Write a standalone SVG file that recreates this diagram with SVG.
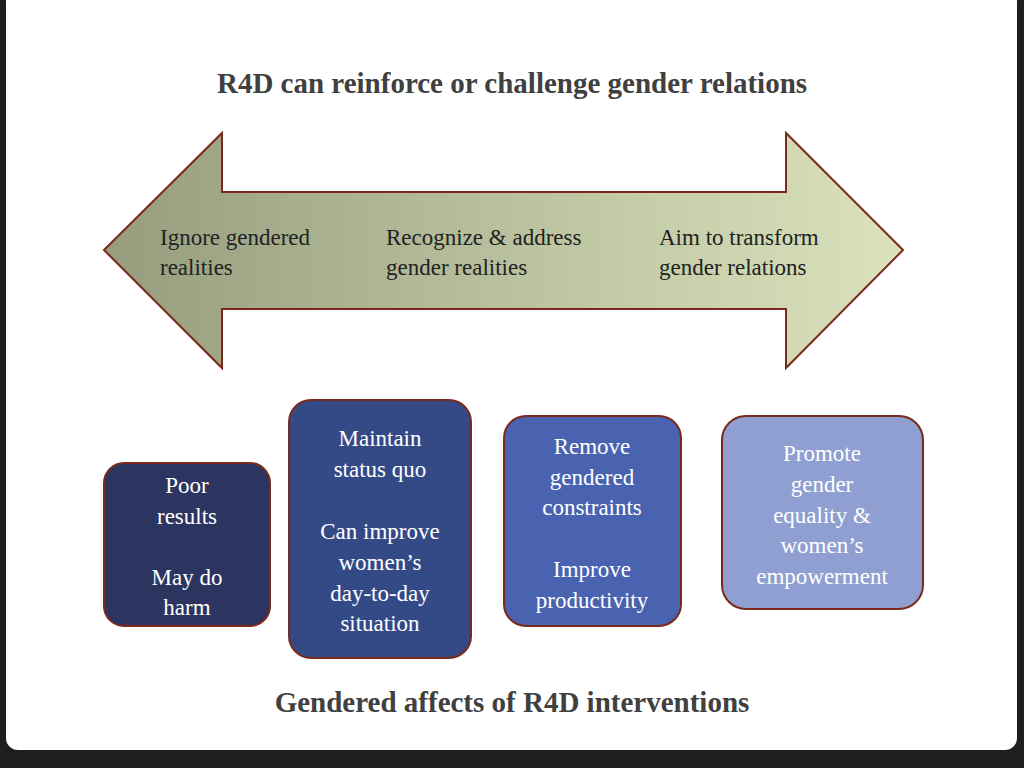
<svg xmlns="http://www.w3.org/2000/svg" width="1024" height="768" viewBox="0 0 1024 768">
<defs>
<linearGradient id="ag" x1="0" y1="0" x2="1" y2="0">
<stop offset="0" stop-color="#959d7d"/><stop offset="1" stop-color="#dbe3bd"/>
</linearGradient>
<style>
.b{stroke:#7a2a1a;stroke-width:2}
.t{font-family:"Liberation Serif",serif;font-size:23px;fill:#fff;text-anchor:middle}
.a{font-family:"Liberation Serif",serif;font-size:23px;fill:#222}
.h{font-family:"Liberation Serif",serif;font-size:29px;font-weight:bold;fill:#404040;text-anchor:middle}
</style>
</defs>
<rect width="1024" height="768" fill="#1e1e1e"/>
<rect x="6" y="-10" width="1011" height="760" rx="12" fill="#fff"/>
<text class="h" x="512" y="93">R4D can reinforce or challenge gender relations</text>
<g id="arrow">
<polygon class="b" fill="url(#ag)" points="104,250 222,133 222,192 786,192 786,133 903,250 786,368 786,309 222,309 222,368"/>
<text class="a" x="160" y="245">Ignore gendered</text><text class="a" x="160" y="275">realities</text>
<text class="a" x="386" y="245">Recognize &amp; address</text><text class="a" x="386" y="275">gender realities</text>
<text class="a" x="659" y="245">Aim to transform</text><text class="a" x="659" y="275">gender relations</text>
</g>
<g id="n1"><rect class="b" x="104" y="463" width="166" height="163" rx="20" fill="#2b3560"/>
<text class="t" x="187" y="493">Poor</text><text class="t" x="187" y="524">results</text><text class="t" x="187" y="585">May do</text><text class="t" x="187" y="615">harm</text></g>
<g id="n2"><rect class="b" x="289" y="400" width="182" height="258" rx="22" fill="#344a87"/>
<text class="t" x="380" y="446">Maintain</text><text class="t" x="380" y="477">status quo</text><text class="t" x="380" y="539">Can improve</text><text class="t" x="380" y="570">women’s</text><text class="t" x="380" y="601">day-to-day</text><text class="t" x="380" y="631">situation</text></g>
<g id="n3"><rect class="b" x="504" y="416" width="177" height="210" rx="22" fill="#4a63b0"/>
<text class="t" x="592" y="454">Remove</text><text class="t" x="592" y="485">gendered</text><text class="t" x="592" y="515">constraints</text><text class="t" x="592" y="577">Improve</text><text class="t" x="592" y="608">productivity</text></g>
<g id="n4"><rect class="b" x="722" y="416" width="201" height="193" rx="24" fill="#8f9fd1"/>
<text class="t" x="822" y="461">Promote</text><text class="t" x="822" y="492">gender</text><text class="t" x="822" y="523">equality &amp;</text><text class="t" x="822" y="553">women’s</text><text class="t" x="822" y="584">empowerment</text></g>
<g id="connectors"/>
<text class="h" x="512" y="712">Gendered affects of R4D interventions</text>
</svg>
